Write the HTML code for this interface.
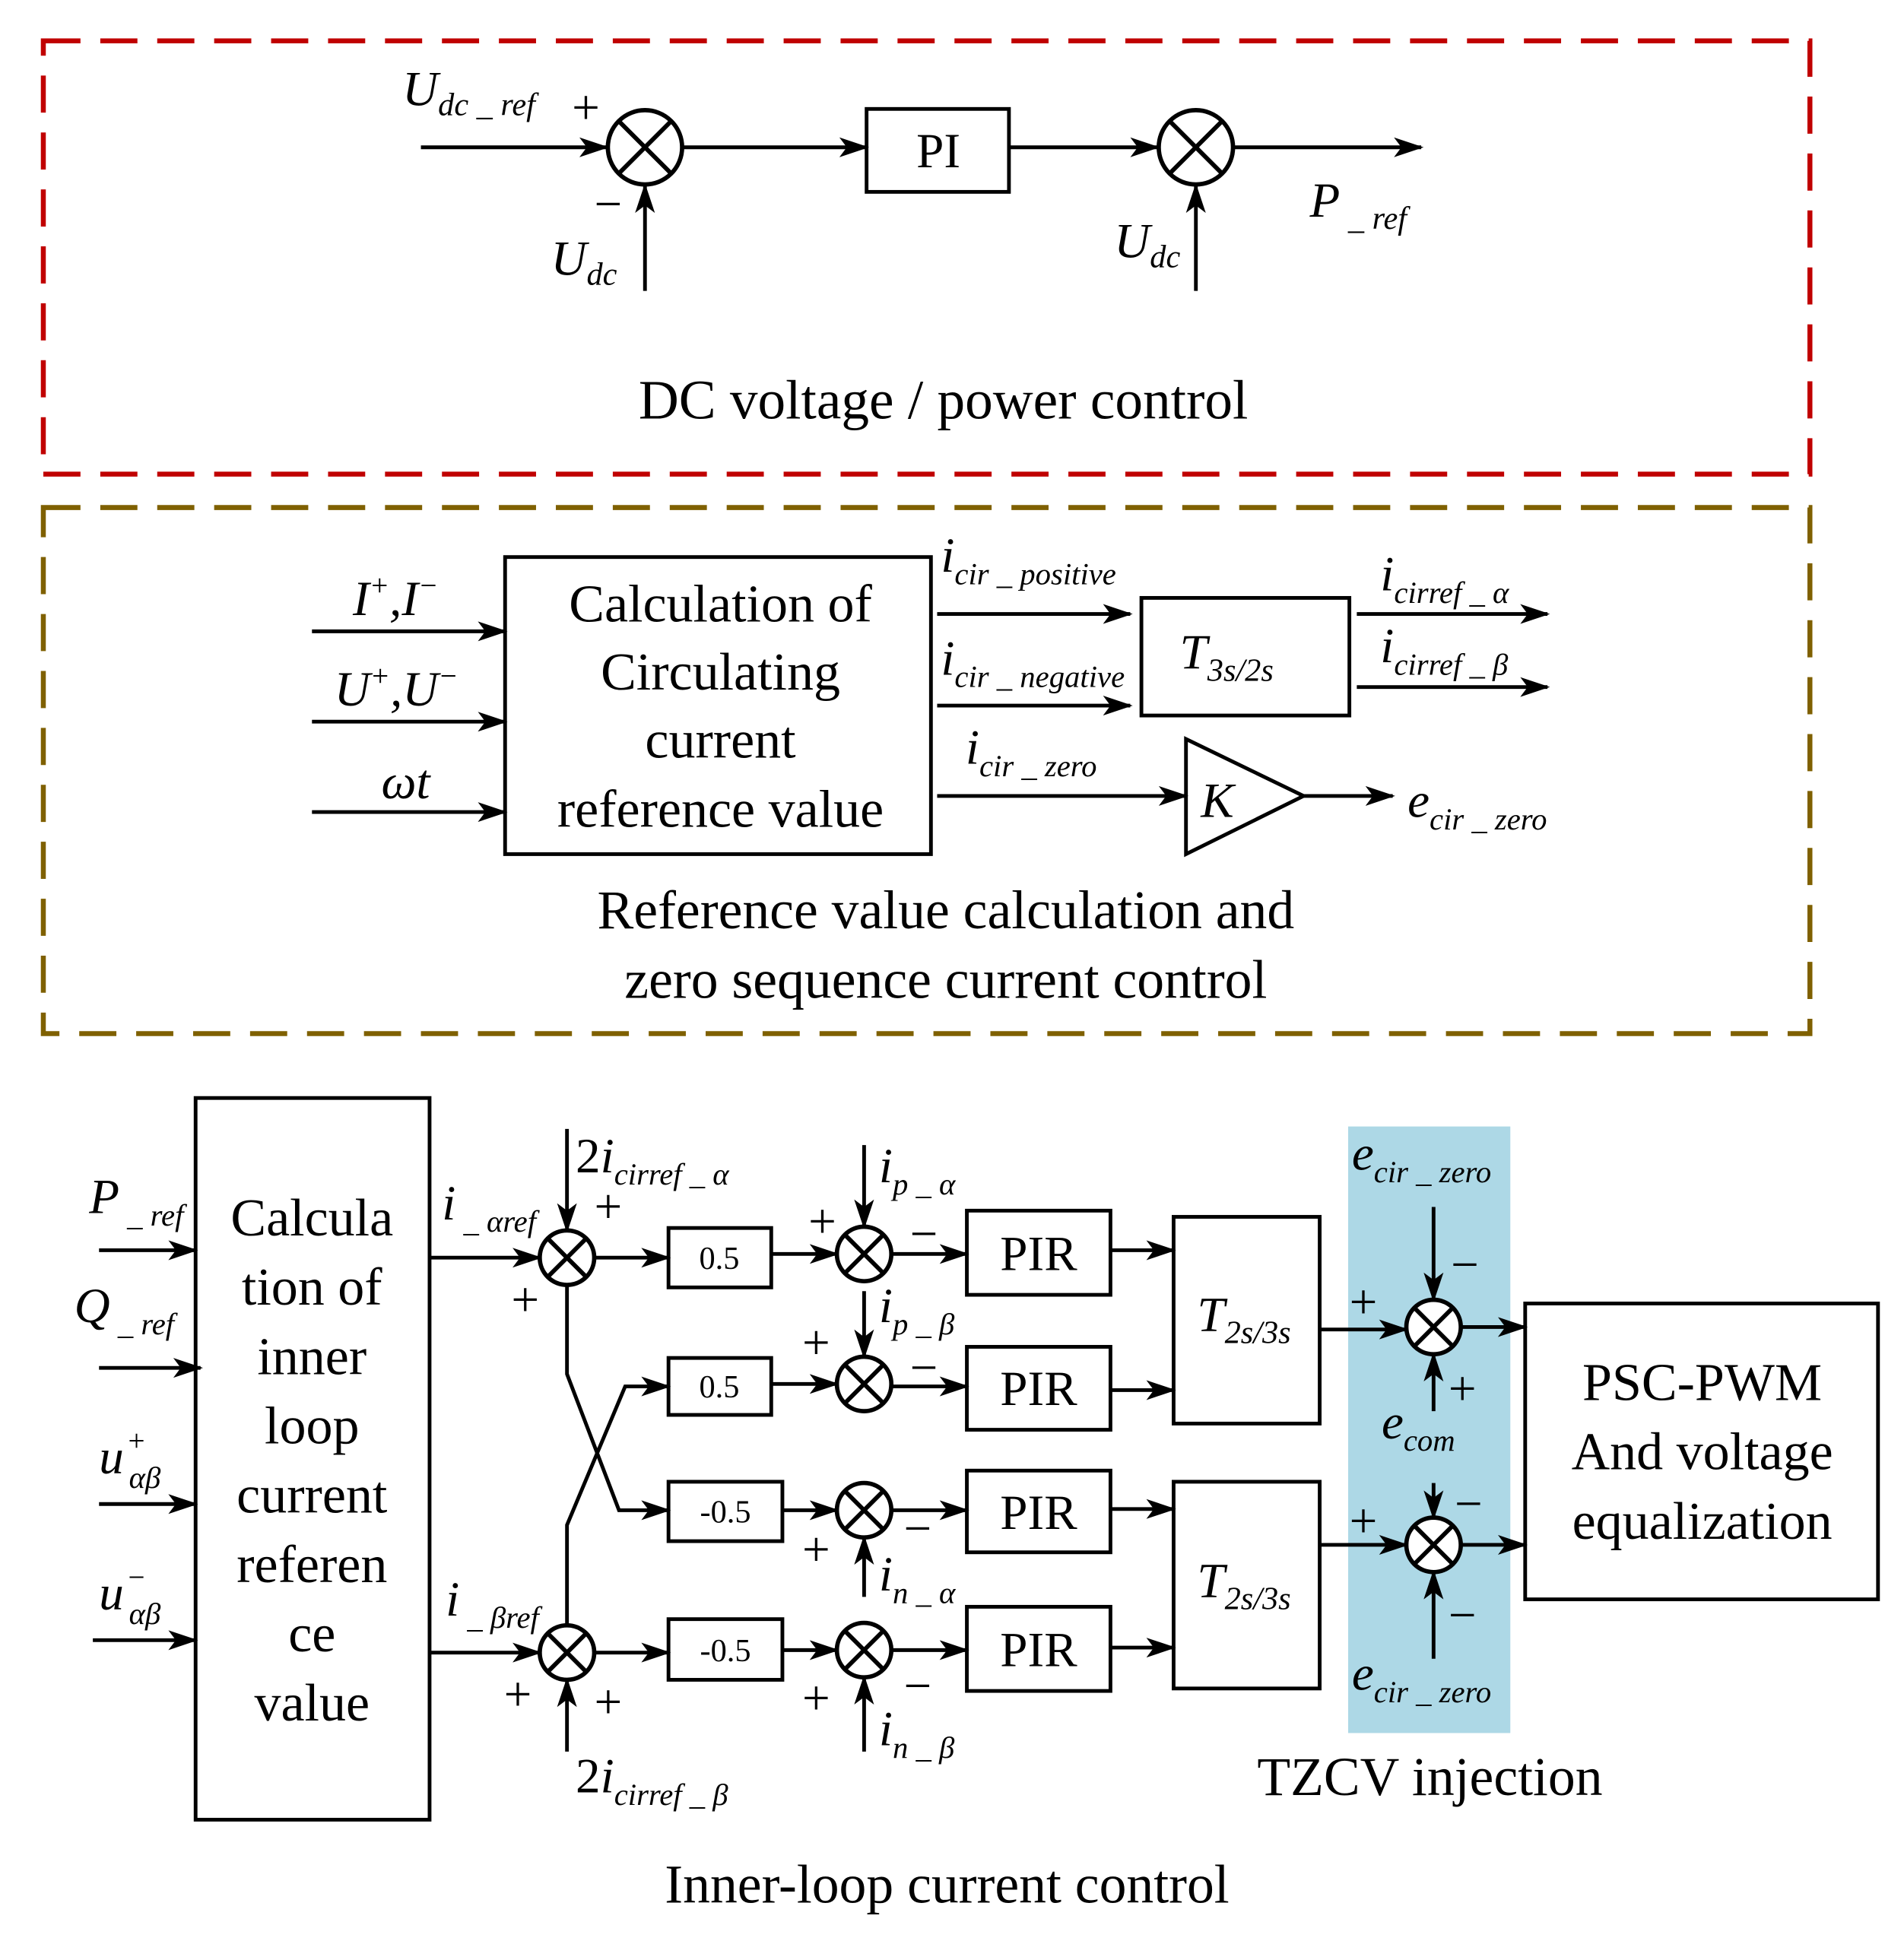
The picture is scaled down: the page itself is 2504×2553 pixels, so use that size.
<!DOCTYPE html>
<html><head><meta charset="utf-8"><style>html,body{margin:0;padding:0;background:#fff}svg{display:block}</style></head><body>
<svg width="2504" height="2553" viewBox="0 0 1538 1568" preserveAspectRatio="none" xmlns="http://www.w3.org/2000/svg" font-family="Liberation Serif, serif">
<defs><marker id="a" markerUnits="userSpaceOnUse" markerWidth="24" markerHeight="16" refX="22" refY="8" orient="auto"><path d="M0,0 L24,8 L0,16 L6,8 z" fill="#000"/></marker></defs>
<rect width="1538" height="1568" fill="#fff"/>
<rect x="35" y="33" width="1427" height="350" fill="none" stroke="#c00000" stroke-width="4" stroke-dasharray="30,16"/>
<rect x="35" y="410" width="1427" height="425" fill="none" stroke="#7f6000" stroke-width="4" stroke-dasharray="30,16"/>
<rect x="1089" y="910" width="131" height="490" fill="#add8e6"/>
<g stroke="#000" stroke-width="3" fill="none">
<line x1="340" y1="119" x2="490" y2="119" marker-end="url(#a)"/>
<line x1="552" y1="119" x2="700" y2="119" marker-end="url(#a)"/>
<rect x="700" y="88" width="115" height="67"/>
<line x1="815" y1="119" x2="935" y2="119" marker-end="url(#a)"/>
<line x1="997" y1="119" x2="1148" y2="119" marker-end="url(#a)"/>
<line x1="521" y1="235" x2="521" y2="150" marker-end="url(#a)"/>
<line x1="966" y1="235" x2="966" y2="150" marker-end="url(#a)"/>
<rect x="408" y="450" width="344" height="240"/>
<line x1="252" y1="510" x2="408" y2="510" marker-end="url(#a)"/>
<line x1="252" y1="583" x2="408" y2="583" marker-end="url(#a)"/>
<line x1="252" y1="656" x2="408" y2="656" marker-end="url(#a)"/>
<line x1="757" y1="496" x2="913" y2="496" marker-end="url(#a)"/>
<line x1="757" y1="570" x2="913" y2="570" marker-end="url(#a)"/>
<rect x="922" y="483" width="168" height="95"/>
<line x1="1096" y1="496" x2="1250" y2="496" marker-end="url(#a)"/>
<line x1="1096" y1="555" x2="1250" y2="555" marker-end="url(#a)"/>
<line x1="757" y1="643" x2="958" y2="643" marker-end="url(#a)"/>
<path d="M958,597 L958,690 L1053,643 Z"/>
<line x1="1053" y1="643" x2="1125" y2="643" marker-end="url(#a)"/>
<rect x="158" y="887" width="189" height="583"/>
<line x1="80" y1="1010" x2="158" y2="1010" marker-end="url(#a)"/>
<line x1="80" y1="1105" x2="162" y2="1105" marker-end="url(#a)"/>
<line x1="80" y1="1215" x2="158" y2="1215" marker-end="url(#a)"/>
<line x1="75" y1="1325" x2="158" y2="1325" marker-end="url(#a)"/>
<line x1="347" y1="1016" x2="436" y2="1016" marker-end="url(#a)"/>
<line x1="347" y1="1335" x2="436" y2="1335" marker-end="url(#a)"/>
<line x1="458" y1="912" x2="458" y2="994" marker-end="url(#a)"/>
<line x1="458" y1="1415" x2="458" y2="1357" marker-end="url(#a)"/>
<polyline points="458,1038 458,1110 500,1220 540,1220" marker-end="url(#a)"/>
<polyline points="458,1313 458,1232 505,1120 540,1120" marker-end="url(#a)"/>
<line x1="480" y1="1016" x2="540" y2="1016" marker-end="url(#a)"/>
<line x1="480" y1="1335" x2="540" y2="1335" marker-end="url(#a)"/>
<rect x="540" y="992" width="83" height="48"/>
<rect x="540" y="1097" width="83" height="46"/>
<rect x="540" y="1197" width="92" height="48"/>
<rect x="540" y="1308" width="92" height="49"/>
<line x1="623" y1="1013" x2="676" y2="1013" marker-end="url(#a)"/>
<line x1="623" y1="1118" x2="676" y2="1118" marker-end="url(#a)"/>
<line x1="632" y1="1220" x2="676" y2="1220" marker-end="url(#a)"/>
<line x1="632" y1="1333" x2="676" y2="1333" marker-end="url(#a)"/>
<line x1="698" y1="925" x2="698" y2="991" marker-end="url(#a)"/>
<line x1="698" y1="1043" x2="698" y2="1096" marker-end="url(#a)"/>
<line x1="698" y1="1290" x2="698" y2="1242" marker-end="url(#a)"/>
<line x1="698" y1="1415" x2="698" y2="1355" marker-end="url(#a)"/>
<line x1="720" y1="1013" x2="781" y2="1013" marker-end="url(#a)"/>
<line x1="720" y1="1120" x2="781" y2="1120" marker-end="url(#a)"/>
<line x1="720" y1="1220" x2="781" y2="1220" marker-end="url(#a)"/>
<line x1="720" y1="1333" x2="781" y2="1333" marker-end="url(#a)"/>
<rect x="781" y="978" width="116" height="68"/>
<rect x="781" y="1088" width="116" height="67"/>
<rect x="781" y="1188" width="116" height="66"/>
<rect x="781" y="1298" width="116" height="68"/>
<line x1="897" y1="1010" x2="948" y2="1010" marker-end="url(#a)"/>
<line x1="897" y1="1123" x2="948" y2="1123" marker-end="url(#a)"/>
<line x1="897" y1="1219" x2="948" y2="1219" marker-end="url(#a)"/>
<line x1="897" y1="1331" x2="948" y2="1331" marker-end="url(#a)"/>
<rect x="948" y="983" width="118" height="167"/>
<rect x="948" y="1197" width="118" height="167"/>
<line x1="1066" y1="1074" x2="1136" y2="1074" marker-end="url(#a)"/>
<line x1="1066" y1="1248" x2="1136" y2="1248" marker-end="url(#a)"/>
<line x1="1180" y1="1072" x2="1232" y2="1072" marker-end="url(#a)"/>
<line x1="1180" y1="1248" x2="1232" y2="1248" marker-end="url(#a)"/>
<line x1="1158" y1="975" x2="1158" y2="1050" marker-end="url(#a)"/>
<line x1="1158" y1="1140" x2="1158" y2="1094" marker-end="url(#a)"/>
<line x1="1158" y1="1198" x2="1158" y2="1226" marker-end="url(#a)"/>
<line x1="1158" y1="1340" x2="1158" y2="1270" marker-end="url(#a)"/>
<rect x="1232" y="1053" width="285" height="239"/>
</g>
<g stroke="#000" stroke-width="3.5" fill="#fff">
<circle cx="521" cy="119" r="30"/><circle cx="966" cy="119" r="30"/>
<circle cx="458" cy="1016" r="22"/><circle cx="458" cy="1335" r="22"/>
<circle cx="698" cy="1013" r="22"/><circle cx="698" cy="1118" r="22"/><circle cx="698" cy="1220" r="22"/><circle cx="698" cy="1333" r="22"/>
<circle cx="1158" cy="1072" r="22"/><circle cx="1158" cy="1248" r="22"/>
</g>
<g stroke="#000" stroke-width="3.5">
<path d="M500,98 L542,140 M542,98 L500,140"/><path d="M945,98 L987,140 M987,98 L945,140"/>
<path d="M443,1001 L473,1031 M473,1001 L443,1031"/>
<path d="M443,1320 L473,1350 M473,1320 L443,1350"/>
<path d="M683,998 L713,1028 M713,998 L683,1028"/><path d="M683,1103 L713,1133 M713,1103 L683,1133"/>
<path d="M683,1205 L713,1235 M713,1205 L683,1235"/><path d="M683,1318 L713,1348 M713,1318 L683,1348"/>
<path d="M1143,1057 L1173,1087 M1173,1057 L1143,1087"/><path d="M1143,1233 L1173,1263 M1173,1233 L1143,1263"/>
</g>
<g fill="#000" font-size="40">
<text x="325" y="85" font-style="italic">U<tspan font-size="26" dy="8">dc _ ref</tspan></text>
<text x="462" y="100">+</text><text x="480" y="178">−</text>
<text x="445" y="222" font-style="italic">U<tspan font-size="26" dy="8">dc</tspan></text>
<text x="900" y="208" font-style="italic">U<tspan font-size="26" dy="8">dc</tspan></text>
<text x="1058" y="175" font-style="italic">P<tspan font-size="26" dy="10"> _ ref</tspan></text>
<text x="758" y="135" text-anchor="middle">PI</text>
<text x="762" y="338" text-anchor="middle" font-size="45">DC voltage / power control</text>
<g font-size="43" text-anchor="middle"><text x="582" y="502">Calculation of</text><text x="582" y="557">Circulating</text><text x="582" y="612">current</text><text x="582" y="668">reference value</text></g>
<text x="285" y="497" font-style="italic">I<tspan font-size="24" dy="-16">+</tspan><tspan dy="16">,I</tspan><tspan font-size="24" dy="-16">−</tspan></text>
<text x="270" y="570" font-style="italic">U<tspan font-size="24" dy="-16">+</tspan><tspan dy="16">,U</tspan><tspan font-size="24" dy="-16">−</tspan></text>
<text x="308" y="645" font-style="italic">ωt</text>
<text x="760" y="462" font-style="italic">i<tspan font-size="25" dy="10">cir _ positive</tspan></text>
<text x="760" y="545" font-style="italic">i<tspan font-size="25" dy="10">cir _ negative</tspan></text>
<text x="780" y="617" font-style="italic">i<tspan font-size="25" dy="10">cir _ zero</tspan></text>
<text x="1115" y="477" font-style="italic">i<tspan font-size="25" dy="10">cirref _ α</tspan></text>
<text x="1115" y="535" font-style="italic">i<tspan font-size="25" dy="10">cirref _ β</tspan></text>
<text x="953" y="540" font-style="italic">T<tspan font-size="26" dy="10">3s/2s</tspan></text>
<text x="970" y="660" font-style="italic">K</text>
<text x="1137" y="660" font-style="italic">e<tspan font-size="25" dy="10">cir _ zero</tspan></text>
<text x="764" y="750" text-anchor="middle" font-size="44">Reference value calculation and</text>
<text x="764" y="806" text-anchor="middle" font-size="44">zero sequence current control</text>
<g font-size="43" text-anchor="middle"><text x="252" y="998">Calcula</text><text x="252" y="1054">tion of</text><text x="252" y="1110">inner</text><text x="252" y="1166">loop</text><text x="252" y="1222">current</text><text x="252" y="1278">referen</text><text x="252" y="1334">ce</text><text x="252" y="1390">value</text></g>
<text x="72" y="980" font-style="italic">P<tspan font-size="25" dy="10"> _ ref</tspan></text>
<text x="60" y="1068" font-style="italic">Q<tspan font-size="25" dy="10"> _ ref</tspan></text>
<text x="80" y="1190" font-style="italic">u<tspan font-size="24" dx="2" dy="-18">+</tspan><tspan font-size="25" dx="-14" dy="30">αβ</tspan></text>
<text x="80" y="1300" font-style="italic">u<tspan font-size="24" dx="2" dy="-18">−</tspan><tspan font-size="25" dx="-14" dy="30">αβ</tspan></text>
<text x="357" y="985" font-style="italic">i<tspan font-size="25" dy="10"> _ αref</tspan></text>
<text x="360" y="1305" font-style="italic">i<tspan font-size="25" dy="10"> _ βref</tspan></text>
<text x="465" y="947">2<tspan font-style="italic">i</tspan><tspan font-size="25" font-style="italic" dy="10">cirref _ α</tspan></text>
<text x="465" y="1448">2<tspan font-style="italic">i</tspan><tspan font-size="25" font-style="italic" dy="10">cirref _ β</tspan></text>
<text x="480" y="988">+</text><text x="413" y="1063">+</text><text x="407" y="1382">+</text><text x="480" y="1388">+</text>
<g font-size="26" text-anchor="middle"><text x="581" y="1025">0.5</text><text x="581" y="1129">0.5</text><text x="586" y="1230">-0.5</text><text x="586" y="1342">-0.5</text></g>
<text x="710" y="955" font-style="italic">i<tspan font-size="25" dy="10">p _ α</tspan></text>
<text x="710" y="1068" font-style="italic">i<tspan font-size="25" dy="10">p _ β</tspan></text>
<text x="710" y="1285" font-style="italic">i<tspan font-size="25" dy="10">n _ α</tspan></text>
<text x="710" y="1410" font-style="italic">i<tspan font-size="25" dy="10">n _ β</tspan></text>
<text x="653" y="1000">+</text><text x="735" y="1010">−</text>
<text x="648" y="1098">+</text><text x="735" y="1118">−</text>
<text x="648" y="1265">+</text><text x="730" y="1248">−</text>
<text x="648" y="1385">+</text><text x="730" y="1375">−</text>
<g font-size="40" text-anchor="middle"><text x="839" y="1026">PIR</text><text x="839" y="1135">PIR</text><text x="839" y="1235">PIR</text><text x="839" y="1346">PIR</text></g>
<text x="967" y="1075" font-style="italic">T<tspan font-size="26" dy="10">2s/3s</tspan></text>
<text x="967" y="1290" font-style="italic">T<tspan font-size="26" dy="10">2s/3s</tspan></text>
<text x="1092" y="945" font-style="italic">e<tspan font-size="25" dy="10">cir _ zero</tspan></text>
<text x="1116" y="1162" font-style="italic">e<tspan font-size="25" dy="10">com</tspan></text>
<text x="1092" y="1365" font-style="italic">e<tspan font-size="25" dy="10">cir _ zero</tspan></text>
<text x="1090" y="1065">+</text><text x="1172" y="1035">−</text><text x="1170" y="1135">+</text>
<text x="1090" y="1242">+</text><text x="1175" y="1228">−</text><text x="1170" y="1318">−</text>
<g font-size="43" text-anchor="middle"><text x="1375" y="1131">PSC-PWM</text><text x="1375" y="1187">And voltage</text><text x="1375" y="1243">equalization</text></g>
<text x="1155" y="1450" text-anchor="middle" font-size="44">TZCV injection</text>
<text x="765" y="1537" text-anchor="middle" font-size="44">Inner-loop current control</text>
</g>
</svg>
</body></html>
